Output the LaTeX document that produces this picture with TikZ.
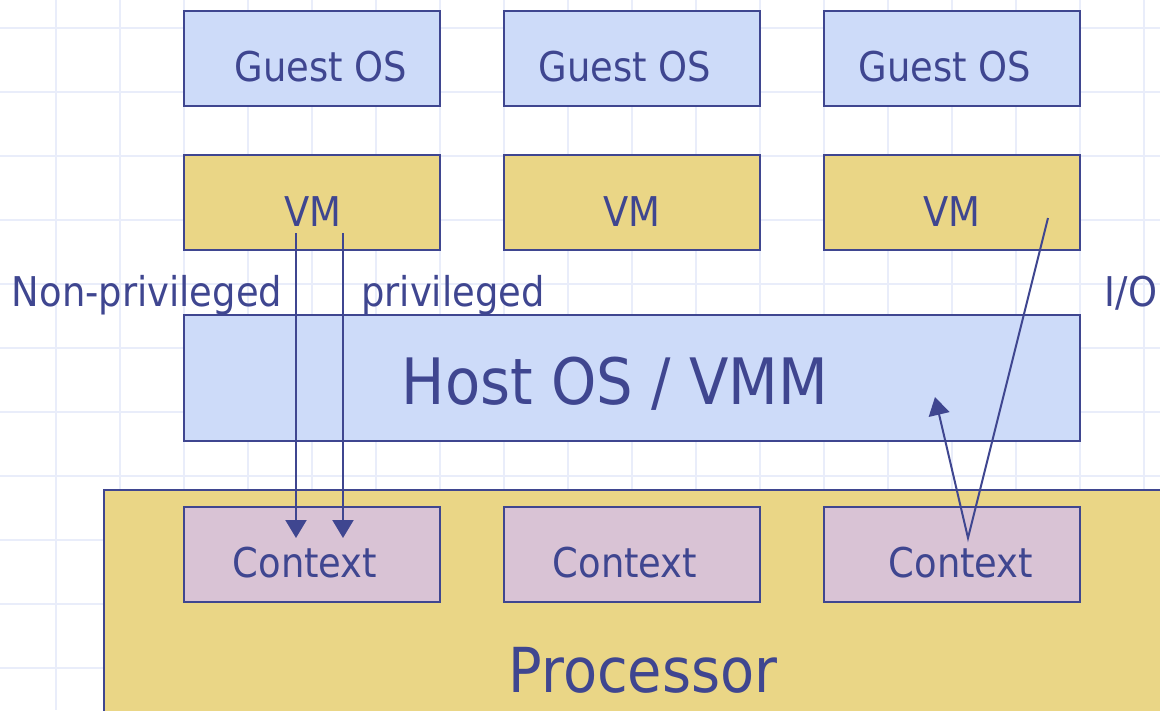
\documentclass[tikz,border=0pt]{standalone}
\usepackage{fontspec}
\setmainfont[FakeStretch=0.9]{DejaVu Sans}
\usetikzlibrary{arrows.meta,calc}

\definecolor{ink}{HTML}{3F4690}
\definecolor{gridc}{HTML}{E9EDFA}
\definecolor{guestfill}{HTML}{CDDBF9}
\definecolor{vmfill}{HTML}{EAD686}
\definecolor{ctxfill}{HTML}{D9C3D5}

\begin{document}
\begin{tikzpicture}[x=1pt,y=-1pt,
  box/.style={draw=ink, line width=2pt, rectangle, inner sep=0pt, outer sep=0pt,
    anchor=north west, minimum width=256pt, minimum height=95pt},
  guestbox/.style={box, fill=guestfill},
  vmbox/.style={box, fill=vmfill},
  ctxbox/.style={box, fill=ctxfill},
  txt/.style={text=ink, inner sep=0pt, anchor=base},
  small/.style={txt, font=\fontsize{41}{41}\selectfont},
  big/.style={txt, font=\fontsize{62}{62}\selectfont},
  arr/.style={draw=ink, line width=2pt, -{Triangle[length=18pt,width=21pt]}}
]
\useasboundingbox (0,0) rectangle (1160,710);
\clip (0,0) rectangle (1160,710);

% background grid
\foreach \gx in {-8,56,...,1160} \draw[gridc, line width=2pt] (\gx,0) -- (\gx,710);
\foreach \gy in {28,92,...,710} \draw[gridc, line width=2pt] (0,\gy) -- (1160,\gy);

% processor and host layers
\node[box, fill=vmfill, minimum width=1080pt, minimum height=240pt] (proc) at (104,490) {};
\node[box, fill=guestfill, minimum width=896pt, minimum height=126pt] (host) at (184,315) {};

% guest operating systems
\node[guestbox] (g1) at (184,11) {};
\node[guestbox] (g2) at (504,11) {};
\node[guestbox] (g3) at (824,11) {};

% virtual machines
\node[vmbox] (vm1) at (184,155) {};
\node[vmbox] (vm2) at (504,155) {};
\node[vmbox] (vm3) at (824,155) {};

% hardware contexts
\node[ctxbox] (ctx1) at (184,507) {};
\node[ctxbox] (ctx2) at (504,507) {};
\node[ctxbox] (ctx3) at (824,507) {};

% labels
\node[small] (g1t) at (321,81) {Guest OS};
\node[small] (g2t) at (625,81) {Guest OS};
\node[small] (g3t) at (945,81) {Guest OS};
\node[small] (vm1t) at (313,226) {VM};
\node[small] (vm2t) at (632,226) {VM};
\node[small] (vm3t) at (952,226) {VM};
\node[small] (ctx1t) at (305,577) {Context};
\node[small] (ctx2t) at (625,577) {Context};
\node[small] (ctx3t) at (961,577) {Context};
\node[small] (npriv) at (147,306) {Non-privileged};
\node[small] (priv) at (453,306) {privileged};
\node[small] (io) at (1131,306) {I/O};
\node[big, font=\fontsize{64}{64}\selectfont] (hostt) at (615,404) {Host OS / VMM};
\node[big] (proct) at (643,692) {Processor};

% instruction paths
\draw[arr] ([shift={(112,-17)}]vm1.south west) -- ([shift={(112,31)}]ctx1.north west);
\draw[arr] ([shift={(159,-17)}]vm1.south west) -- ([shift={(159,31)}]ctx1.north west);
\coordinate (ioturn) at ([shift={(144,31)}]ctx3.north west);
\draw[arr] ([shift={(-32,-32)}]vm3.south east) -- (ioturn) -- ([shift={(-145,-44)}]host.south east);
\end{tikzpicture}
\end{document}
